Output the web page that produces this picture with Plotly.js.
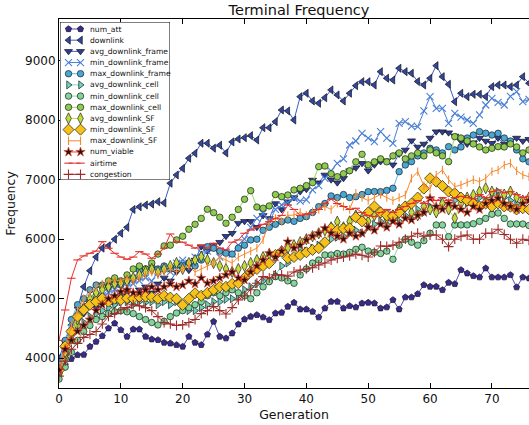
<!DOCTYPE html>
<html><head><meta charset="utf-8">
<script src="https://cdn.plot.ly/plotly-3.0.1.min.js"></script>
<style>html,body{margin:0;padding:0;background:#fff}#chart{width:529px;height:425px}</style>
</head><body><div id="chart"></div>
<script>
const generation = [0,1,2,3,4,5,6,7,8,9,10,11,12,13,14,15,16,17,18,19,20,21,22,23,24,25,26,27,28,29,30,31,32,33,34,35,36,37,38,39,40,41,42,43,44,45,46,47,48,49,50,51,52,53,54,55,56,57,58,59,60,61,62,63,64,65,66,67,68,69,70,71,72,73,74,75,76];
const xTicks = [0,10,20,30,40,50,60,70];
const yTicks = [4000,5000,6000,7000,8000,9000];

const numAtt = [3740,3890,3990,4056,4060,4196,4279,4375,4504,4588, 4476,4364,4487,4487,4364,4319,4308,4263,4250,4224, 4196,4364,4263,4224,4400,4616,4364,4336,4420,4571, 4655,4700,4728,4689,4644,4756,4767,4868,4935,4823, 4823,4784,4689,4840,4952,4952,4840,4879,4857,4924, 4935,4924,4840,4857,4980,4823,5025,5025,5081,5232, 5204,5204,5148,5271,5249,5484,5428,5383,5361,5512, 5361,5361,5361,5400,5193,5361,5344];
const downlink = [4000,4280,4560,4850,5200,5470,5700,5850,5890,6000, 6100,6200,6500,6545,6575,6590,6630,6610,6940,7080, 7190,7360,7444,7612,7612,7530,7580,7450,7635,7684, 7706,7740,7667,7874,7874,7975,8171,8155,8003,8395, 8452,8323,8284,8378,8508,8424,8323,8452,8580,8647, 8647,8591,8815,8704,8675,8872,8815,8788,8650,8591, 8704,8916,8731,8603,8311,8452,8395,8435,8435,8395, 8563,8591,8591,8563,8591,8731,8620];
const avgDownlinkFrame = [3850,4150,4450,4650,4750,4900,4850,4950,4950,4900, 5050,5100,5000,5150,5200,5100,5250,5350,5300,5450, 5500,5480,5650,5875,5800,5900,5950,6050,6100,6270, 6300,6300,6200,6400,6350,6600,6500,6631,6700,6800, 6840,6995,6950,7080,7000,6950,7024,7152,7200,7276, 7152,7250,7305,7320,7250,7432,7500,7656,7550,7600, 7700,7807,7807,7790,7735,7650,7600,7620,7700,7650, 7612,7700,7600,7650,7700,7650,7680];
const minDownlinkFrame = [3900,4200,4500,4700,4800,4900,5000,5050,5100,5150, 5100,5200,5250,5300,5350,5300,5450,5500,5450,5600, 5650,5600,5700,5770,5800,5875,5700,5800,5750,5900, 6000,6200,6350,6436,6300,6500,6575,6620,6688,6640, 6660,6828,6900,7024,7150,7276,7350,7583,7650,7780, 7700,7639,7807,7700,7612,7948,7975,7900,7891,8155, 8395,8200,8200,7948,8116,8050,8003,7948,8088,8255, 8368,8300,8255,8400,8479,8311,8350];
const maxDownlinkFrame = [3900,4300,4650,4900,5000,5150,5230,5230,5200,5250, 5230,5300,5350,5480,5500,5550,5500,5550,5500,5560, 5560,5600,5550,5650,5875,5848,5800,5764,5750,5850, 5900,5988,6000,6150,6200,6250,6295,6323,6300,6350, 6379,6450,6547,6600,6727,6700,6750,6700,6715,6750, 6799,6800,6799,6820,6856,7135,7247,7303,7400,7450, 7528,7500,7450,7555,7500,7550,7700,7750,7807,7780, 7751,7779,7700,7650,7500,7350,7300];
const avgDownlinkCell = [3800,4050,4300,4500,4600,4700,4750,4800,4850,4900, 4950,4950,4900,4950,4935,4950,4900,4950,4900,4950, 4850,4800,4800,4850,4900,4950,4950,4990,5000,5050, 5150,5200,5250,5300,5300,5400,5550,5600,5700,5820, 5800,5850,5900,5950,6000,6033,6050,6100,6150,6100, 6200,6250,6300,6250,6350,6300,6400,6350,6500,6450, 6550,6500,6600,6550,6650,6700,6600,6650,6700,6650, 6750,6800,6700,6650,6600,6550,6500];
const minDownlinkCell = [3650,3850,4100,4300,4450,4550,4650,4700,4750,4780, 4800,4780,4750,4700,4650,4600,4560,4620,4700,4760, 4800,4850,4900,4950,5050,5100,5050,5100,5150,5100, 5050,5000,5100,5200,5287,5371,5350,5300,5260,5400, 5500,5600,5650,5735,5735,5760,5750,5780,5830,5865, 5800,5780,5760,5800,5663,5900,6000,5950,5900,5976, 6100,6239,6239,6043,6240,6240,6240,6260,6300,6350, 6420,6440,6350,6256,6256,6256,6230];
const maxDownlinkCell = [3750,4000,4300,4550,4800,4950,5050,5200,5300,5350, 5300,5400,5500,5550,5500,5600,5750,5887,5900,5988, 6050,6167,6250,6350,6503,6446,6369,6268,6369,6500, 6671,6815,6540,6520,6559,6750,6715,6743,6828,6856, 6900,6950,7219,7230,7100,7050,7100,7150,7300,7427, 7250,7300,7350,7300,7400,7450,7350,7400,7450,7400, 7500,7450,7400,7303,7723,7700,7650,7600,7550,7500, 7528,7555,7550,7600,7550,7450,7500];
const avgDownlinkSF = [3800,4100,4400,4650,4850,5000,5100,5150,5200,5250, 5260,5300,5350,5400,5450,5500,5450,5500,5550,5600, 5500,5600,5650,5707,5650,5600,5550,5500,5450,5500, 5550,5600,5650,5700,5750,5700,5800,5850,5900,5950, 6000,6050,6100,6150,6200,6295,6200,6300,6400,6350, 6300,6400,6450,6350,6400,6500,6550,6450,6400,6550, 6500,6450,6600,6500,6352,6600,6700,6743,6800,6856, 6800,6700,6750,6800,6700,6650,6700];
const minDownlinkSF = [3800,4200,4450,4700,4811,4900,4950,5008,4950,5000, 4980,5008,5000,5030,5035,5030,5000,5050,5020,5000, 4895,5000,5092,5050,5100,5150,5200,5200,5250,5260, 5350,5450,5500,5550,5596,5735,5791,5680,5700,5735, 5780,5820,5850,5950,6184,6150,6180,6184,6369,6300, 6450,6550,6450,6400,6391,6450,6550,6600,6700,6850, 7024,6967,6895,6800,6772,6700,6650,6600,6550,6600, 6550,6600,6550,6547,6500,6520,6500];
const maxDownlinkSF = [3750,4150,4550,4800,5000,5100,5200,5250,5300,5315, 5300,5350,5300,5350,5400,5450,5400,5450,5500,5450, 5500,5550,5450,5500,5550,5600,5700,5650,5600,5700, 5750,5800,5850,5988,6295,6350,6300,6400,6407,6450, 6400,6463,6500,6550,6500,6604,6550,6500,6772,6700, 6650,6700,6750,6700,6650,6700,6743,7024,7135,6900, 6850,7079,7163,7000,6883,6911,6950,7000,6967,7024, 7135,7163,7247,7276,7150,7080,7050];
const numViable = [3800,4150,4300,4450,4550,4650,4800,4900,5000,5050, 5119,5150,5100,5100,5150,5200,5150,5200,5250,5200, 5231,5300,5250,5350,5260,5300,5350,5400,5450,5350, 5316,5450,5550,5650,5764,5700,5800,5960,5850,5900, 5988,6050,6100,6184,6100,6050,6000,6100,6050,6100, 6200,6150,6250,6200,6300,6250,6350,6323,6400,6450, 6688,6550,6500,6600,6550,6500,6450,6550,6500,6600, 6650,6688,6600,6550,6500,6600,6650];
const airtime = [4300,4811,5344,5652,5719,5764,5800,5959,5848,5764, 5700,5663,5700,5791,5750,5680,5750,5850,6088,5955, 5950,5900,5850,5900,5850,5932,5850,5820,5950,5988, 6100,6155,6200,6250,6295,6350,6400,6575,6500,6400, 6420,6450,6500,6600,6671,6600,6550,6500,6520,6450, 6400,6380,6450,6500,6450,6500,6550,6600,6650,6600, 6688,6650,6700,6650,6700,6720,6700,6680,6750,6700, 6800,6828,6780,6800,6750,6700,6720];
const congestion = [3700,3950,4150,4250,4350,4400,4450,4576,4702,4750, 4814,4850,4900,4880,4850,4800,4700,4600,4576,4550, 4560,4600,4650,4750,4800,4867,4800,4744,4850,4980, 5050,5150,5260,5371,5350,5400,5399,5380,5450,5480, 5500,5520,5567,5600,5650,5680,5700,5720,5750,5730, 5700,5780,5887,5880,5900,5950,6000,6050,6100,6050, 6071,6071,6000,5875,6000,6050,6070,6000,6000,6100, 6100,6167,6080,6000,5932,6000,5980];

const seriesNames = ['num_att','downlink','avg_downlink_frame','min_downlink_frame','max_downlink_frame','avg_downlink_cell','min_downlink_cell','max_downlink_cell','avg_downlink_SF','min_downlink_SF','max_downlink_SF','num_viable','airtime','congestion'];
const seriesValues = [numAtt,downlink,avgDownlinkFrame,minDownlinkFrame,maxDownlinkFrame,avgDownlinkCell,minDownlinkCell,maxDownlinkCell,avgDownlinkSF,minDownlinkSF,maxDownlinkSF,numViable,airtime,congestion];

// styles
const styles = [
  {sym:'pentagon', size:6.5, fill:'#3a2a8a', line:'#4f4cb0', edge:'#15152e', open:false},
  {sym:'triangle-left', size:7, fill:'#3346a2', line:'#3d5cc6', edge:'#111', open:false},
  {sym:'triangle-down', size:7, fill:'#2e3d98', line:'#3f62c4', edge:'#111', open:false},
  {sym:'x-thin-open', size:7, fill:'#4a7fd4', line:'#4a7fd4', edge:'#4a7fd4', open:true},
  {sym:'circle', size:6.5, fill:'#4aa6d2', line:'#5fb6dc', edge:'#15202a', open:false},
  {sym:'triangle-right', size:7, fill:'#72d2bb', line:'#7fd8c0', edge:'#152020', open:false},
  {sym:'circle', size:6.5, fill:'#80d49c', line:'#8ad9a6', edge:'#152015', open:false},
  {sym:'circle', size:6.5, fill:'#8fca52', line:'#9ad466', edge:'#152010', open:false},
  {sym:'diamond-tall', size:8, fill:'#c6d93c', line:'#c6d93c', edge:'#222', open:false},
  {sym:'diamond', size:8.5, fill:'#f6c21a', line:'#f2c42a', edge:'#1a1a1a', open:false},
  {sym:'line-ns-open', size:6, fill:'#f6892e', line:'#f6892e', edge:'#f6892e', open:true},
  {sym:'star', size:7, fill:'#2a1212', line:'#e0452a', edge:'#e0452a', open:false},
  {sym:'line-ew-open', size:6, fill:'#e6302a', line:'#e6302a', edge:'#e6302a', open:true},
  {sym:'cross-thin-open', size:7, fill:'#9e2c28', line:'#9e2c28', edge:'#9e2c28', open:true}
];

function markerFor(s){
  return {symbol:s.sym, size:s.size, color:s.fill,
    line:{color:s.edge, width: s.open ? 1.1 : 0.7}};
}

const traces = [];
seriesNames.forEach((name,i)=>{
  const s = styles[i];
  traces.push({type:'scatter', mode:'lines+markers', name:name, x:generation, y:seriesValues[i],
    xaxis:'x', yaxis:'y', line:{color:s.line, width:1}, marker:markerFor(s), showlegend:false, hoverinfo:'skip'});
});

// custom compact legend (axes in pixel units inside the legend box)
const boxW = 110, boxH = 158;
traces.push({type:'scatter', mode:'lines', x:[0,boxW,boxW,0,0], y:[0,0,boxH,boxH,0], xaxis:'x2', yaxis:'y2',
  fill:'toself', fillcolor:'#ffffff', line:{color:'#000', width:1}, showlegend:false, hoverinfo:'skip'});
const annotations = [];
seriesNames.forEach((name,i)=>{
  const s = styles[i];
  const yy = 7 + 11.18*i;
  traces.push({type:'scatter', mode:'lines+markers', x:[8.5,20.5], y:[yy,yy], xaxis:'x2', yaxis:'y2',
    line:{color:s.line, width:1}, marker:markerFor(s), showlegend:false, hoverinfo:'skip', cliponaxis:false});
  annotations.push({xref:'x2', yref:'y2', x:28, y:yy, text:name, showarrow:false, xanchor:'left', yanchor:'middle',
    font:{family:'DejaVu Sans', size:7.6, color:'#111'}});
});

const W = 529, H = 425, mL = 59, mR = 0, mT = 19, mB = 37;
const pw = W - mL - mR, ph = H - mT - mB;
const lx0 = 60, ly0 = 22;

const layout = {
  width:W, height:H, margin:{l:mL, r:mR, t:mT, b:mB, pad:0},
  paper_bgcolor:'#fff', plot_bgcolor:'#fff', showlegend:false,
  font:{family:'DejaVu Sans', color:'#111'},
  title:{text:'Terminal Frequency', font:{family:'DejaVu Sans', size:14.5, color:'#111'},
    x:(299-mL)/pw, xref:'paper', xanchor:'center', y:1-10/H, yref:'container', yanchor:'middle'},
  xaxis:{range:[0,76], tickvals:xTicks, ticks:'inside', ticklen:5, tickcolor:'#000', showline:true, linecolor:'#000', linewidth:1,
    mirror:'ticks', showgrid:false, zeroline:false, tickfont:{family:'DejaVu Sans', size:12, color:'#111'},
    title:{text:'Generation', font:{family:'DejaVu Sans', size:12.5, color:'#111'}, standoff:4}},
  yaxis:{range:[3500,9700], tickvals:yTicks, ticks:'inside', ticklen:5, tickcolor:'#000', showline:true, linecolor:'#000', linewidth:1,
    mirror:false, showgrid:false, zeroline:false, tickfont:{family:'DejaVu Sans', size:12, color:'#111'},
    title:{text:'Frequency', font:{family:'DejaVu Sans', size:12.5, color:'#111'}, standoff:6}},
  xaxis2:{domain:[(lx0-mL)/pw, (lx0+boxW-mL)/pw], range:[0,boxW], anchor:'y2', visible:false, fixedrange:true},
  yaxis2:{domain:[1-(ly0+boxH-mT)/ph, 1-(ly0-mT)/ph], range:[boxH,0], anchor:'x2', visible:false, fixedrange:true},
  annotations:annotations
};

Plotly.newPlot('chart', traces, layout, {staticPlot:true, displayModeBar:false});
</script></body></html>
